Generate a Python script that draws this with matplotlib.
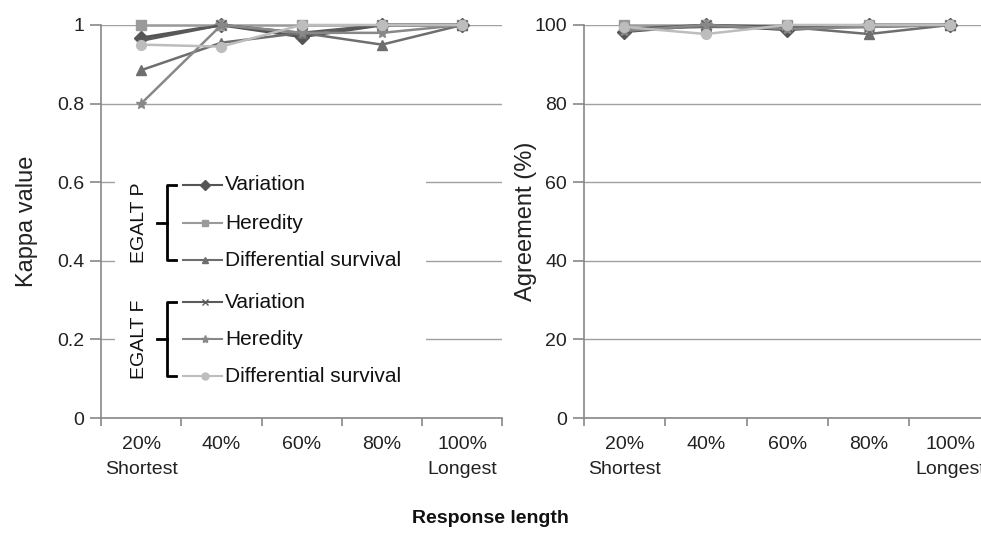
import matplotlib.pyplot as plt
from matplotlib.lines import Line2D
from matplotlib.patches import Rectangle

plt.rcParams['font.family'] = ['Liberation Sans', 'DejaVu Sans']

categories = ["20%\nShortest", "40%", "60%", "80%", "100%\nLongest"]
series_names = ["Variation", "Heredity", "Differential survival",
                "Variation", "Heredity", "Differential survival"]

# kappa values (left panel)
kappa_var_p = [0.967, 1.0, 0.97, 1.0, 1.0]
kappa_her_p = [1.0, 1.0, 1.0, 1.0, 1.0]
kappa_dif_p = [0.885, 0.955, 0.98, 0.95, 1.0]
kappa_var_f = [0.96, 1.0, 0.98, 1.0, 1.0]
kappa_her_f = [0.8, 1.0, 0.98, 0.98, 1.0]
kappa_dif_f = [0.95, 0.945, 1.0, 1.0, 1.0]

# agreement % (right panel)
agr_var_p = [98.3, 100, 98.8, 100, 100]
agr_her_p = [100, 100, 100, 100, 100]
agr_dif_p = [99.0, 99.5, 99.5, 97.7, 100]
agr_var_f = [99.0, 100, 99.5, 99.5, 100]
agr_her_f = [98.5, 100, 99.0, 99.5, 100]
agr_dif_f = [99.5, 97.7, 100, 100, 100]

styles = [
    dict(color="#555555", marker="D", ms=7, lw=2.2),
    dict(color="#9a9a9a", marker="s", ms=7, lw=1.8),
    dict(color="#6e6e6e", marker="^", ms=7, lw=1.8),
    dict(color="#5a5a5a", marker="x", ms=7, lw=1.8),
    dict(color="#888888", marker="*", ms=8, lw=1.8),
    dict(color="#bdbdbd", marker="o", ms=7, lw=1.8),
]

fig = plt.figure(figsize=(9.81, 5.43), dpi=100)
ax1 = fig.add_axes([0.103, 0.230, 0.409, 0.724])
ax2 = fig.add_axes([0.595, 0.230, 0.415, 0.724])

x = list(range(len(categories)))


def style_axis(ax, ymax, yticks, yticklabels, ylabel, label_x):
    ax.set_xlim(-0.5, len(categories) - 0.5)
    ax.set_ylim(0, ymax)
    ax.set_yticks(yticks)
    ax.set_yticklabels(yticklabels, fontsize=14, color="#222222")
    ax.set_xticks(x)
    ax.set_xticklabels(categories, fontsize=14, color="#222222", linespacing=1.6)
    ax.set_xticks([i - 0.5 for i in range(len(categories) + 1)], minor=True)
    ax.tick_params(axis="x", which="major", length=0, pad=13)
    ax.tick_params(axis="x", which="minor", length=6, color="#888888", width=1.2)
    ax.tick_params(axis="y", length=8, color="#888888", width=1.2, pad=4)
    for s in ["top", "right"]:
        ax.spines[s].set_visible(False)
    for s in ["left", "bottom"]:
        ax.spines[s].set_color("#888888")
        ax.spines[s].set_linewidth(1.2)
    ax.grid(axis="y", color="#a0a0a0", lw=1.0)
    ax.set_axisbelow(True)
    ax.set_ylabel(ylabel, fontsize=17, color="#222222")
    ax.yaxis.set_label_coords(label_x, 0.5)


style_axis(ax1, 1.0, [0, 0.2, 0.4, 0.6, 0.8, 1.0],
           ["0", "0.2", "0.4", "0.6", "0.8", "1"], "Kappa value", -0.158)
style_axis(ax2, 100, [0, 20, 40, 60, 80, 100],
           ["0", "20", "40", "60", "80", "100"], "Agreement (%)", -0.115)

kappa = [kappa_var_p, kappa_her_p, kappa_dif_p, kappa_var_f, kappa_her_f, kappa_dif_f]
agr = [agr_var_p, agr_her_p, agr_dif_p, agr_var_f, agr_her_f, agr_dif_f]

for vals, st in zip(kappa, styles):
    ax1.plot(x, vals, color=st["color"], marker=st["marker"], ms=st["ms"],
             lw=st["lw"], clip_on=False, zorder=3)
for vals, st in zip(agr, styles):
    ax2.plot(x, vals, color=st["color"], marker=st["marker"], ms=st["ms"],
             lw=st["lw"], clip_on=False, zorder=3)

# custom bracketed legend in left panel (axes fraction coords)
t = ax1.transAxes
ax1.add_patch(Rectangle((0.035, 0.07), 0.775, 0.55, transform=t,
                        facecolor="white", edgecolor="none", zorder=4))
row_y = [0.593, 0.496, 0.402, 0.295, 0.201, 0.107]
for yy, name, st in zip(row_y, series_names, styles):
    ax1.add_line(Line2D([0.204, 0.302], [yy, yy], transform=t, color=st["color"],
                        lw=1.5, zorder=5))
    ax1.add_line(Line2D([0.26], [yy], transform=t, color=st["color"],
                        marker=st["marker"], ms=st["ms"] - 2, zorder=5))
    ax1.text(0.309, yy, name, transform=t, fontsize=15, color="#111111",
             va="center", ha="left", zorder=6)

for top, bot, label in [(row_y[0], row_y[2], "EGALT P"), (row_y[3], row_y[5], "EGALT F")]:
    mid = (top + bot) / 2
    bx = 0.165
    ax1.add_line(Line2D([bx + 0.022, bx, bx, bx + 0.022], [top, top, bot, bot],
                        transform=t, color="black", lw=2, zorder=5))
    ax1.add_line(Line2D([bx - 0.025, bx], [mid, mid], transform=t,
                        color="black", lw=2, zorder=5))
    ax1.text(0.097, mid, label, transform=t, rotation=90, fontsize=14,
             va="center", ha="center", color="#111111", zorder=6)

fig.text(0.5, 0.045, "Response length", fontsize=14, fontweight="bold",
         ha="center", va="center", color="#111111")

fig.savefig("out.png", dpi=100)
